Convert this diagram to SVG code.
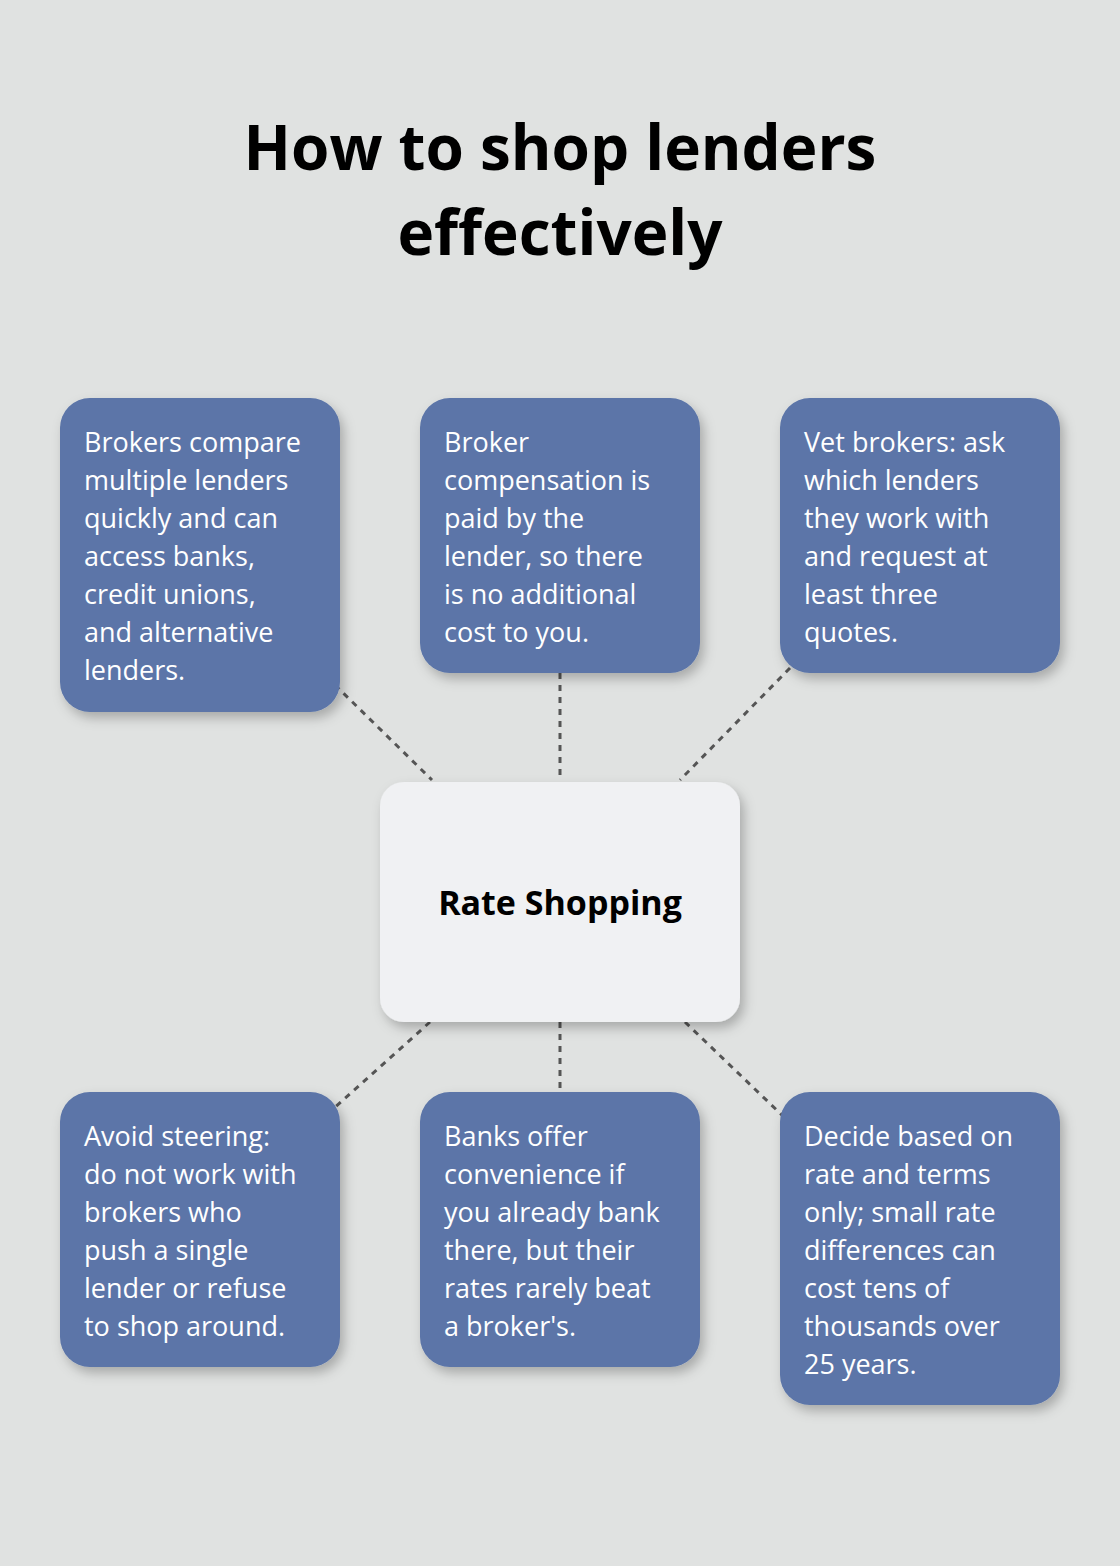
<svg xmlns="http://www.w3.org/2000/svg" width="1120" height="1566" viewBox="0 0 1120 1566">
<defs>
<filter id="sh" x="-20%" y="-20%" width="140%" height="140%"><feDropShadow dx="4" dy="6" stdDeviation="6" flood-color="#000" flood-opacity="0.25"/></filter>
<style>
.b{fill:#5b75a8;filter:url(#sh)}
.t{fill:#fff;font-family:"Open Sans","Noto Sans",sans-serif;font-size:27px}
.c{stroke:#555;stroke-width:3;stroke-dasharray:6 6;fill:none}
</style>
</defs>
<rect width="1120" height="1566" fill="#e0e2e1"/>
<g id="title" font-family="'Open Sans','Noto Sans',sans-serif" font-weight="bold" font-size="62" text-anchor="middle" fill="#000">
<text x="560" y="170">How to shop lenders</text>
<text x="560" y="255">effectively</text>
</g>
<g id="connectors">
<line class="c" x1="335" y1="685" x2="432" y2="780"/>
<line class="c" x1="560" y1="673" x2="560" y2="780"/>
<line class="c" x1="790" y1="668" x2="680" y2="780"/>
<line class="c" x1="430" y1="1022" x2="332" y2="1110"/>
<line class="c" x1="560" y1="1022" x2="560" y2="1090"/>
<line class="c" x1="685" y1="1022" x2="785" y2="1118"/>
</g>
<g id="center"><rect x="380" y="782" width="360" height="240" rx="24" fill="#f0f1f3" filter="url(#sh)"/>
<text x="560" y="915" text-anchor="middle" font-family="'Open Sans','Noto Sans',sans-serif" font-weight="bold" font-size="34" fill="#000">Rate Shopping</text></g>
<g id="n1"><rect class="b" x="60" y="398" width="280" height="314" rx="30"/>
<text class="t" x="84" y="452"><tspan x="84">Brokers compare</tspan><tspan x="84" dy="38">multiple lenders</tspan><tspan x="84" dy="38">quickly and can</tspan><tspan x="84" dy="38">access banks,</tspan><tspan x="84" dy="38">credit unions,</tspan><tspan x="84" dy="38">and alternative</tspan><tspan x="84" dy="38">lenders.</tspan></text></g>
<g id="n2"><rect class="b" x="420" y="398" width="280" height="275" rx="30"/>
<text class="t" x="444" y="452"><tspan x="444">Broker</tspan><tspan x="444" dy="38">compensation is</tspan><tspan x="444" dy="38">paid by the</tspan><tspan x="444" dy="38">lender, so there</tspan><tspan x="444" dy="38">is no additional</tspan><tspan x="444" dy="38">cost to you.</tspan></text></g>
<g id="n3"><rect class="b" x="780" y="398" width="280" height="275" rx="30"/>
<text class="t" x="804" y="452"><tspan x="804">Vet brokers: ask</tspan><tspan x="804" dy="38">which lenders</tspan><tspan x="804" dy="38">they work with</tspan><tspan x="804" dy="38">and request at</tspan><tspan x="804" dy="38">least three</tspan><tspan x="804" dy="38">quotes.</tspan></text></g>
<g id="n4"><rect class="b" x="60" y="1092" width="280" height="275" rx="30"/>
<text class="t" x="84" y="1146"><tspan x="84">Avoid steering:</tspan><tspan x="84" dy="38">do not work with</tspan><tspan x="84" dy="38">brokers who</tspan><tspan x="84" dy="38">push a single</tspan><tspan x="84" dy="38">lender or refuse</tspan><tspan x="84" dy="38">to shop around.</tspan></text></g>
<g id="n5"><rect class="b" x="420" y="1092" width="280" height="275" rx="30"/>
<text class="t" x="444" y="1146"><tspan x="444">Banks offer</tspan><tspan x="444" dy="38">convenience if</tspan><tspan x="444" dy="38">you already bank</tspan><tspan x="444" dy="38">there, but their</tspan><tspan x="444" dy="38">rates rarely beat</tspan><tspan x="444" dy="38">a broker's.</tspan></text></g>
<g id="n6"><rect class="b" x="780" y="1092" width="280" height="313" rx="30"/>
<text class="t" x="804" y="1146"><tspan x="804">Decide based on</tspan><tspan x="804" dy="38">rate and terms</tspan><tspan x="804" dy="38">only; small rate</tspan><tspan x="804" dy="38">differences can</tspan><tspan x="804" dy="38">cost tens of</tspan><tspan x="804" dy="38">thousands over</tspan><tspan x="804" dy="38">25 years.</tspan></text></g>
</svg>
